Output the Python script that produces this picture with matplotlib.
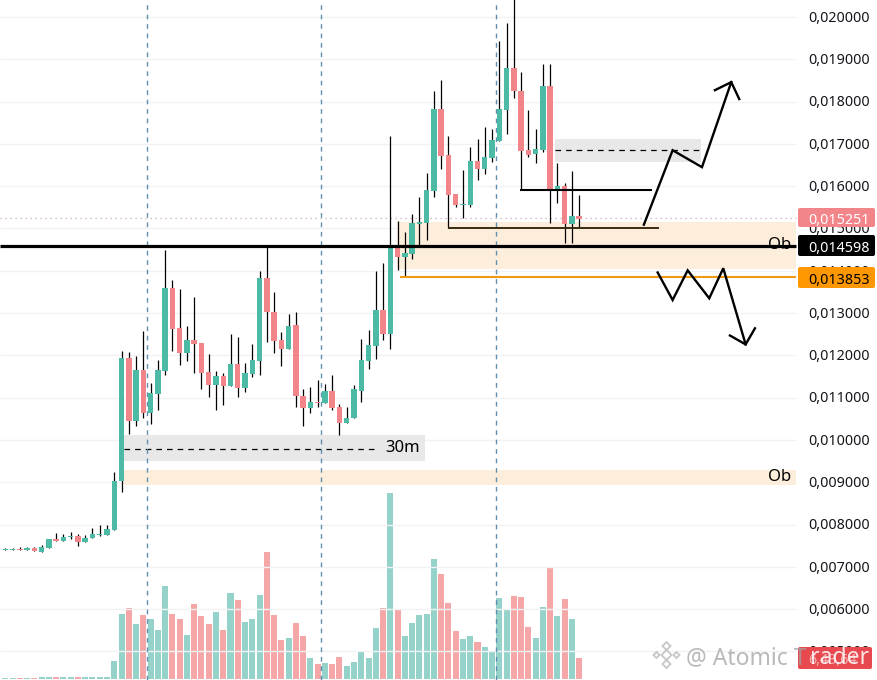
import numpy as np
import matplotlib
matplotlib.use("Agg")
import matplotlib.pyplot as plt
from matplotlib.patches import FancyBboxPatch, Polygon, Rectangle
from matplotlib.transforms import Affine2D

# candles, in thousandths of the quote price
bar_idx = np.arange(-15, 65)
opens = [7.40, 7.40, 7.42, 7.40, 7.44, 7.35, 7.45, 7.65, 7.61, 7.70, 7.72, 7.58, 7.68, 7.75, 7.75,
         7.87, 9.02, 11.93, 10.46, 11.65, 10.65, 11.08, 11.62, 13.59, 12.64, 12.05, 12.36, 12.29, 11.60, 11.29,
         11.51, 11.27, 11.79, 11.22, 11.55, 11.86, 13.83, 13.02, 12.36, 12.15, 12.71, 11.05, 10.75, 10.91, 10.87,
         11.17, 10.77, 10.39, 10.51, 11.17, 11.86, 12.22, 13.07, 12.50, 14.59, 14.33, 14.40, 15.11, 15.13, 15.89,
         17.83, 16.74, 15.82, 15.56, 15.56, 16.60, 16.41, 16.67, 17.07, 17.81, 18.80, 18.26, 16.86, 16.77, 16.86,
         18.38, 15.89, 16.01, 15.11, 15.30]
highs = [7.44, 7.44, 7.46, 7.46, 7.46, 7.51, 7.65, 7.80, 7.77, 7.82, 7.77, 7.75, 7.91, 7.98, 7.98,
         9.24, 12.10, 12.07, 11.98, 12.57, 11.34, 11.88, 14.49, 13.78, 13.57, 12.69, 13.38, 12.29, 12.03, 11.62,
         11.58, 12.50, 12.43, 11.81, 12.26, 13.99, 14.62, 13.50, 12.55, 12.97, 13.02, 11.20, 11.25, 11.41, 11.32,
         11.53, 10.84, 10.77, 11.29, 12.38, 12.60, 13.99, 14.18, 17.19, 15.18, 14.92, 15.34, 15.75, 16.32, 18.26,
         18.50, 17.19, 15.82, 16.39, 16.93, 17.12, 17.41, 17.36, 19.44, 19.85, 20.51, 18.69, 17.79, 17.36, 18.90,
         18.88, 16.55, 16.08, 16.36, 15.79]
lows = [7.40, 7.40, 7.40, 7.40, 7.38, 7.35, 7.45, 7.61, 7.61, 7.65, 7.49, 7.58, 7.68, 7.72, 7.75,
        7.87, 8.76, 10.13, 10.34, 10.53, 10.37, 10.70, 11.53, 12.10, 11.77, 11.86, 11.58, 11.20, 11.01, 10.70,
        10.82, 11.27, 11.01, 11.13, 11.48, 11.53, 12.31, 12.05, 11.74, 12.15, 10.77, 10.32, 10.65, 10.77, 10.87,
        10.72, 10.11, 10.39, 10.51, 10.89, 11.67, 11.91, 12.36, 12.15, 14.02, 13.86, 14.28, 14.61, 14.73, 15.75,
        16.41, 15.01, 15.51, 15.25, 15.51, 16.15, 16.29, 16.58, 17.07, 17.24, 18.09, 15.91, 16.70, 16.55, 16.81,
        15.13, 15.60, 14.66, 14.66, 15.01]
closes = [7.42, 7.42, 7.40, 7.44, 7.38, 7.47, 7.65, 7.61, 7.70, 7.72, 7.58, 7.68, 7.77, 7.77, 7.89,
          9.02, 11.93, 10.46, 11.65, 10.65, 11.10, 11.65, 13.59, 12.62, 12.05, 12.36, 12.26, 11.58, 11.29, 11.51,
          11.27, 11.79, 11.22, 11.58, 11.88, 13.83, 13.02, 12.34, 12.15, 12.69, 11.03, 10.75, 10.91, 10.87, 11.17,
          10.75, 10.39, 10.53, 11.20, 11.88, 12.24, 13.07, 12.50, 14.59, 14.33, 14.42, 15.13, 15.15, 15.91, 17.83,
          16.72, 15.79, 15.56, 15.58, 16.60, 16.41, 16.70, 17.10, 17.83, 18.80, 18.24, 16.84, 16.74, 16.88, 18.38,
          15.89, 16.01, 15.11, 15.30, 15.23]
volumes = [2, 2, 3, 3, 3, 5, 5, 5, 5, 5, 5, 5, 5, 5, 5,
           54, 195, 213, 165, 192, 180, 147, 279, 195, 180, 132, 225, 189, 165, 201,
           147, 258, 237, 171, 180, 252, 381, 192, 117, 123, 168, 129, 63, 45, 48,
           45, 66, 39, 51, 81, 63, 153, 213, 558, 207, 129, 168, 192, 195, 360,
           315, 228, 144, 120, 129, 111, 96, 84, 243, 210, 249, 246, 156, 123, 216,
           333, 189, 240, 180, 63]

price_ticks = [20, 19, 18, 17, 16, 15, 14, 13, 12, 11, 10, 9, 8, 7, 6, 5]
bold_ticks = [20, 10]
session_bars = [4.57, 28.5, 52.5]

last_price = 15.251
key_level = 14.598
stop_level = 13.853
right_edge = 93.9

up_path_x = [72.9, 76.86, 80.9, 84.93]
up_path_y = [15.09, 16.85, 16.45, 18.46]
up_head_x = [82.68, 84.93, 86.03]
up_head_y = [18.27, 18.46, 18.06]
down_path_x = [74.8, 76.86, 78.93, 81.9, 83.83, 86.91]
down_path_y = [13.96, 13.31, 14.01, 13.35, 14.06, 12.26]
down_head_x = [84.75, 86.91, 88.19]
down_head_y = [12.47, 12.26, 12.64]

GREEN = "#4dbaa5"
RED = "#f2858a"
VOL_GREEN = "#95d2ca"
VOL_RED = "#f5a7a7"
ZONE = "#fdeedb"
GREY_ZONE = "#e8e8e8"
GRID = "#f1f2f4"
FONT = "Noto Sans"


def zone(ax, x0, x1, y0, y1, color):
    ax.add_patch(Rectangle((x0, y0), x1 - x0, y1 - y0, color=color, lw=0, zorder=1))


def main():
    fig = plt.figure(figsize=(8.78, 6.8), dpi=100, facecolor="white")
    vol_ax = fig.add_axes([0, 0, 1, 1])
    ax = fig.add_axes([0, 0, 1, 1])
    ax.patch.set_visible(False)
    vol_ax.axis("off")
    ax.axis("off")
    ax.set_xlim(-15.73, 105.13)
    ax.set_ylim(4.326, 20.402)
    vol_ax.set_xlim(-15.73, 105.13)
    vol_ax.set_ylim(-3, 2037)

    up = np.array(closes) >= np.array(opens)
    vol_ax.bar(bar_idx, volumes, width=0.83, color=np.where(up, VOL_GREEN, VOL_RED))

    ax.hlines(price_ticks, -15.73, right_edge, color=GRID, lw=1, zorder=0)
    for s in session_bars:
        ax.axvline(s, color="#5f8fb0", lw=1.0, ls=(0, (3.4, 3.4)), zorder=5)

    # zones
    zone(ax, 38.9, right_edge, 14.04, 15.15, ZONE)
    zone(ax, 1.3, right_edge, 8.94, 9.29, ZONE)
    zone(ax, 1.34, 42.77, 9.51, 10.12, GREY_ZONE)
    zone(ax, 60.66, 80.76, 16.57, 17.12, GREY_ZONE)

    ax.hlines(last_price, -15.73, right_edge, color="#c9a5ab", lw=0.9, ls=(0, (1, 3)), zorder=2)
    ax.hlines(9.795, 1.34, 36.3, color="black", lw=0.9, ls=(0, (4.5, 4)), zorder=3)
    ax.hlines(16.85, 60.66, 80.5, color="black", lw=0.9, ls=(0, (4.5, 4)), zorder=3)

    # candles
    ax.vlines(bar_idx, lows, highs, color="black", lw=0.9, zorder=6)
    bodies = np.array(closes) - np.array(opens)
    ax.bar(bar_idx, bodies, bottom=opens, width=0.75, color=np.where(up, GREEN, RED), zorder=7)

    ax.hlines(key_level, -15.73, right_edge, color="black", lw=2.3, zorder=8)
    ax.hlines(stop_level, 39.3, right_edge, color="#f09a13", lw=1.5, zorder=8)
    ax.hlines(15.91, 55.85, 73.97, color="black", lw=1.5, zorder=8)
    ax.hlines(15.01, 45.9, 74.98, color="#3a2a10", lw=1.4, zorder=8)

    for xs, ys in [(up_path_x, up_path_y), (up_head_x, up_head_y),
                   (down_path_x, down_path_y), (down_head_x, down_head_y)]:
        ax.plot(xs, ys, color="black", lw=1.7, zorder=9, solid_joinstyle="miter")

    ax.text(39.74, 9.81, "30m", family=FONT, fontsize=12, ha="center", va="center", zorder=9)
    ax.text(91.63, 9.125, "Ob", family=FONT, fontsize=12, ha="center", va="center", zorder=9)
    ax.text(91.63, 14.61, "Ob", family=FONT, fontsize=12, ha="center", va="center", zorder=9)

    for t in price_ticks:
        ax.text(95.49, t - 0.03, "0,%06d" % (t * 1000), family=FONT, fontsize=10.3, color="#14161c",
                ha="left", va="center", weight="bold" if t in bold_ticks else "normal", zorder=3)

    # price tags sit over the axis, placed in pixels from the top left
    px = Affine2D().scale(1, -1).translate(0, 680)
    tags = [(208, 227, RED, "white", "0,015251"), (235, 256, "black", "white", "0,014598"),
            (267, 288, "#ff9800", "black", "0,013853")]
    for top, bottom, bg, fg, label in tags:
        fig.add_artist(FancyBboxPatch((798, top), 77, bottom - top, boxstyle="round,pad=0,rounding_size=2",
                                      fc=bg, ec="none", transform=px, zorder=10))
        fig.text(808, (top + bottom) / 2 + 0.5, label, family=FONT, fontsize=10.3, color=fg, ha="left",
                 va="center_baseline", transform=px, zorder=11)

    # volume tag, mostly lost under the watermark
    fig.add_artist(FancyBboxPatch((798, 647), 74, 22, boxstyle="round,pad=0,rounding_size=2",
                                  fc="#e8494f", ec="none", transform=px, zorder=10))
    fig.text(808, 659, "6,43,64", family=FONT, fontsize=10.3, color="white", alpha=0.55, ha="left",
             va="center_baseline", transform=px, zorder=11)

    # watermark
    logo = [(666.5, 655, 5), (656.5, 655, 3), (676.5, 655, 3), (666.5, 646, 4), (666.5, 664, 4)]
    for cx, cy, r in logo:
        fig.add_artist(Polygon([(cx - r, cy), (cx, cy - r), (cx + r, cy), (cx, cy + r)], closed=True, fc="white",
                               ec="#bdbdbd", lw=1.3, alpha=0.85, transform=px, zorder=12))
    fig.text(686, 655, "@ Atomic T", family=FONT, fontsize=16.5, color="#a2a2a2", alpha=0.75,
             ha="left", va="center_baseline", transform=px, zorder=12)
    fig.text(810, 655, "rader", family=FONT, fontsize=16.5, color="white", alpha=0.85,
             ha="left", va="center_baseline", transform=px, zorder=12)

    fig.savefig("out.png", dpi=100)
    plt.close(fig)


if __name__ == '__main__':
    main()
